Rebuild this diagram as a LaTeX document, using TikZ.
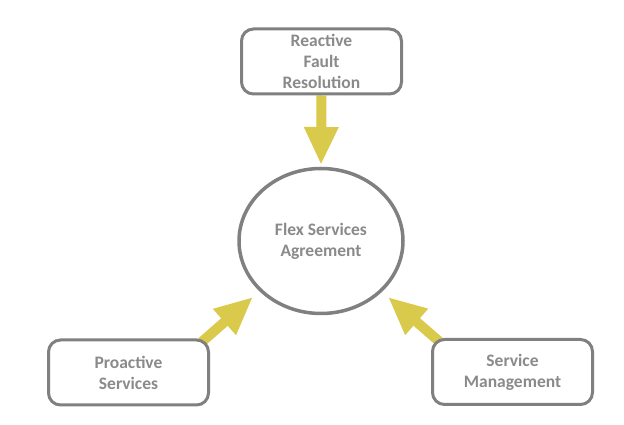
\documentclass[tikz,border=0pt]{standalone}
\usepackage{fontspec}
\setmainfont{Carlito}
\usetikzlibrary{arrows.meta,shapes.geometric,positioning,backgrounds}
\definecolor{boxgray}{RGB}{128,128,128}
\definecolor{textgray}{RGB}{138,138,138}
\definecolor{flowyellow}{RGB}{218,202,76}
\tikzstyle{block} = [rectangle, rounded corners=12pt, draw=boxgray, line width=3pt, fill=white,
  minimum width=160pt, minimum height=65pt, align=center, text=textgray,
  font=\fontsize{17.5}{21}\selectfont\bfseries]
\tikzstyle{hub} = [ellipse, draw=boxgray, line width=3.5pt, fill=white,
  minimum width=164pt, minimum height=145pt, align=center, text=textgray,
  font=\fontsize{17.5}{21}\selectfont\bfseries]
\tikzstyle{flow} = [line width=10pt, draw=flowyellow, -{Triangle[width=32pt,length=38pt,fill=flowyellow]}]

\begin{document}
\begin{tikzpicture}[x=1pt,y=1pt]
            \useasboundingbox (0,0) rectangle (624,425);

            \node (flex) [hub] at (321,184) {Flex Services\\Agreement};
            \node (reactive) [block] at (321.5,363.5) {Reactive\\Fault\\Resolution};
            \node (proactive) [block] at (128.5,52.5) {Proactive\\Services};
            \node (mgmt) [block] at (512.5,53) {Service\\Management};

            % arrow tips stop short of the ellipse
            \coordinate (tipT) at (321,260);
            \coordinate (tipL) at (253,128);
            \coordinate (tipR) at (388,128);

            \begin{scope}[on background layer]
            \draw[flow] (reactive.south) -- (tipT);
            \draw[flow] ([xshift=-18pt,yshift=-12pt]proactive.north east) -- (tipL);
            \draw[flow] ([xshift=18pt,yshift=-12pt]mgmt.north west) -- (tipR);
            \end{scope}
\end{tikzpicture}
\end{document}
